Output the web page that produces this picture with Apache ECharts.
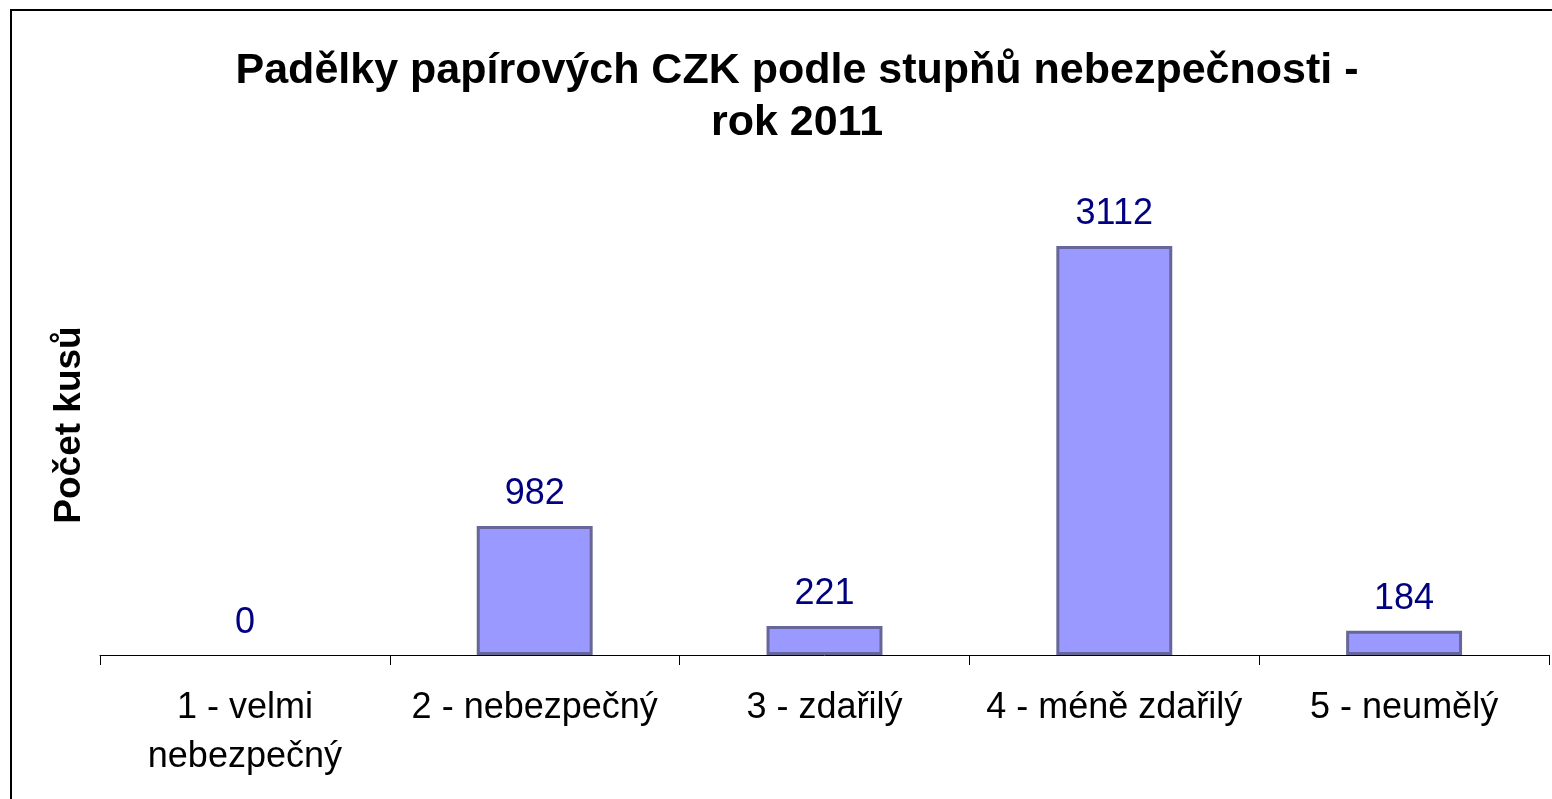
<!DOCTYPE html>
<html>
<head>
<meta charset="utf-8">
<script src="https://cdn.jsdelivr.net/npm/echarts@6/dist/echarts.min.js"></script>
<style>
  html, body { margin: 0; padding: 0; background: #fff; }
  #chart { width: 1552px; height: 799px; }
</style>
</head>
<body>
<div id="chart"></div>
<script>
// kategorie a hodnoty
const categories = ["1 - velmi\nnebezpečný", "2 - nebezpečný", "3 - zdařilý", "4 - méně zdařilý", "5 - neumělý"];
const counts = [0, 982, 221, 3112, 184];

const chart = echarts.init(document.getElementById("chart"));

const font = "Liberation Sans, Arial, sans-serif";

const options = {
  backgroundColor: "#fff",
  animation: false,
  title: {
    text: "Padělky papírových CZK podle stupňů nebezpečnosti -\nrok 2011",
    left: 792,
    top: 40,
    textAlign: "center",
    textStyle: {
      fontFamily: font,
      fontSize: 43,
      fontWeight: "bold",
      color: "#000",
      lineHeight: 52,
    },
  },
  graphic: [
    {
      type: "rect",
      shape: { x: 11, y: 10, width: 1600, height: 900 },
      style: { fill: null, stroke: "#000", lineWidth: 2 },
      silent: true,
    },
  ],
  grid: {
    left: 100,
    right: 3,
    top: 195,
    bottom: 144,
  },
  xAxis: {
    type: "category",
    data: categories,
    axisLine: { lineStyle: { color: "#000", width: 1 } },
    axisTick: { show: true, length: 10, lineStyle: { color: "#000" } },
    axisLabel: {
      fontFamily: font,
      fontSize: 36,
      color: "#000",
      lineHeight: 49,
      margin: 29,
      interval: 0,
    },
  },
  yAxis: {
    type: "value",
    min: 0,
    max: 3500,
    name: "Počet kusů",
    nameLocation: "middle",
    nameGap: 12,
    nameTextStyle: {
      fontFamily: font,
      fontSize: 37,
      fontWeight: "bold",
      color: "#000",
    },
    axisLine: { show: false },
    axisTick: { show: false },
    axisLabel: { show: false },
    splitLine: { show: false },
  },
  series: [
    {
      type: "bar",
      // nulový sloupec se nekreslí vůbec
      data: counts.map((v) => (v === 0 ? { value: v, itemStyle: { borderWidth: 0 } } : v)),
      barWidth: "40%",
      itemStyle: {
        color: "#9999FF",
        borderColor: "#666699",
        borderWidth: 3,
      },
      label: {
        show: true,
        position: "top",
        distance: 14,
        fontFamily: font,
        fontSize: 36,
        color: "#000080",
      },
    },
  ],
};

chart.setOption(options);
</script>
</body>
</html>
